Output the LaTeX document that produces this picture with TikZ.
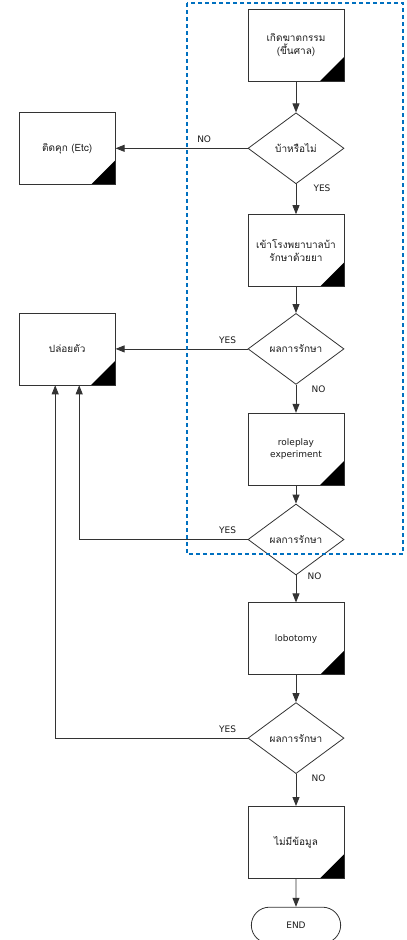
\documentclass[tikz,border=0pt]{standalone}
\usepackage{fontspec}
\setmainfont{DejaVu Sans}
\newfontfamily\thaifont[Script=Thai]{Loma}
\usepackage{tikz}
\usetikzlibrary{positioning, shapes, arrows.meta, calc}
\definecolor{linegray}{HTML}{333333}
\definecolor{textgray}{HTML}{1A1A1A}
\definecolor{groupblue}{HTML}{0070C0}

\begin{document}
\begin{tikzpicture}[x=1pt, y=1pt, node distance=28pt,
  every node/.style={font=\fontsize{9}{12}\selectfont, text=textgray},
  thai/.style={font=\thaifont\fontsize{10}{13}\selectfont},
  process/.style={draw=linegray, line width=0.8pt, minimum width=96pt, minimum height=72pt, align=center,
    path picture={\fill[black] (path picture bounding box.south east) -- ++(-24pt,0) -- ++(24pt,24pt) -- cycle;}},
  decision/.style={draw=linegray, line width=0.8pt, diamond, aspect=1.35, minimum width=96pt, minimum height=71pt, inner sep=0pt, align=center},
  terminal/.style={draw=linegray, line width=0.8pt, rounded rectangle, minimum width=96pt, minimum height=36pt},
  flow/.style={draw=linegray, line width=0.8pt, -{Triangle[length=9pt, width=7pt]}}]
  \useasboundingbox (0,0) rectangle (407,-940);
  % main column
  \node (crime) [process, thai] at (296,-45) {เกิดฆาตกรรม\\(ขึ้นศาล)};
  \node (insane) [decision, thai, below=31pt of crime] {บ้าหรือไม่};
  \node (hospital) [process, thai, below=30pt of insane] {เข้าโรงพยาบาลบ้า\\รักษาด้วยยา};
  \node (result1) [decision, thai, below=26pt of hospital] {ผลการรักษา};
  \node (roleplay) [process, below=of result1] {roleplay\\experiment};
  \node (result2) [decision, thai, below=18pt of roleplay] {ผลการรักษา};
  \node (lobotomy) [process, below=27pt of result2] {lobotomy};
  \node (result3) [decision, thai, below=27pt of lobotomy] {ผลการรักษา};
  \node (nodata) [process, thai, below=32pt of result3] {ไม่มีข้อมูล};
  \node (finish) [terminal, below=of nodata] {END};
  % left column
  \node (jail) [process, thai, left=132pt of insane] {ติดคุก (Etc)};
  \node (release) [process, thai, left=132pt of result1] {ปล่อยตัว};
  % connectors
  \draw[flow] (crime) -- (insane);
  \draw[flow] (insane) -- (hospital);
  \draw[flow] (insane) -- (jail);
  \draw[flow] (hospital) -- (result1);
  \draw[flow] (result1) -- (release);
  \draw[flow] (result1) -- (roleplay);
  \draw[flow] (roleplay) -- (result2);
  \draw[flow] (result2) -- (lobotomy);
  \draw[flow] (result2.west) -| ([xshift=12pt]release.south);
  \draw[flow] (lobotomy) -- (result3);
  \draw[flow] (result3) -- (nodata);
  \draw[flow] (result3.west) -| ([xshift=-12pt]release.south);
  \draw[flow] (nodata) -- (finish);
  % answers
  \node (no1) [above left=2pt and 33pt of insane.west] {NO};
  \node (yes1) [below right=-3pt and 14pt of insane.south] {YES};
  \node (yes2) [above left=2pt and 8pt of result1.west] {YES};
  \node (no2) [below right=-3pt and 12pt of result1.south] {NO};
  \node (yes3) [above left=2pt and 8pt of result2.west] {YES};
  \node (no3) [below right=-6pt and 8pt of result2.south] {NO};
  \node (yes4) [above left=2pt and 8pt of result3.west] {YES};
  \node (no4) [below right=-3pt and 12pt of result3.south] {NO};
  % group
  \draw[groupblue, line width=2.8pt, dash pattern=on 4pt off 3pt] (187,-3) rectangle (403,-554);
\end{tikzpicture}
\end{document}
